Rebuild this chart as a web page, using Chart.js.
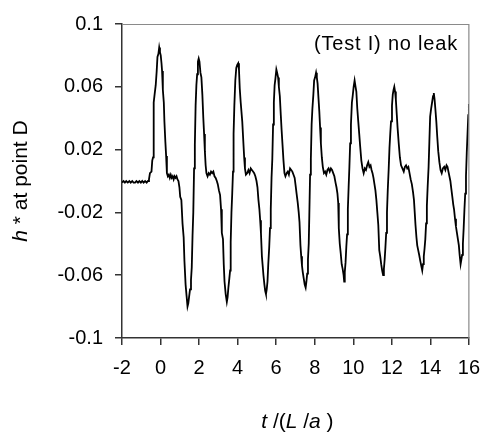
<!DOCTYPE html>
<html>
<head>
<meta charset="utf-8">
<script src="https://cdn.jsdelivr.net/npm/chart.js@4.4.1/dist/chart.umd.min.js"></script>
<style>
html,body{margin:0;padding:0;background:#fff;}
canvas{display:block;}
</style>
</head>
<body>
<canvas id="c" width="491" height="439"></canvas>
<script>
// ---- data ----
const tValues = [
-2.00,-1.92,-1.85,-1.78,-1.70,-1.62,-1.55,-1.47,-1.40,-1.32,-1.25,-1.17,-1.10,-1.02,-0.95,-0.88,-0.80,-0.72,-0.65,-0.60,
-0.55,-0.47,-0.43,-0.39,-0.37,-0.34,-0.30,-0.25,-0.20,-0.16,-0.11,-0.07,-0.03,0.01,0.05,0.08,0.12,0.17,0.20,0.25,0.29,0.33,
0.38,0.43,0.48,0.53,0.58,0.63,0.68,0.73,0.78,0.83,0.88,0.93,0.98,1.02,1.08,1.14,1.20,1.24,1.30,1.35,1.40,1.44,1.48,1.53,1.58,
1.62,1.66,1.70,1.74,1.78,1.82,1.86,1.90,1.94,1.98,2.02,2.07,2.12,2.17,2.22,2.26,2.30,2.34,2.38,2.44,2.50,2.56,2.62,2.68,2.74,
2.80,2.86,2.92,2.97,3.03,3.09,3.14,3.18,3.24,3.28,3.32,3.38,3.44,3.48,3.52,3.57,3.61,3.64,3.68,3.72,3.76,3.79,3.83,3.88,3.93,
3.98,4.03,4.07,4.11,4.16,4.24,4.30,4.34,4.38,4.43,4.50,4.56,4.62,4.68,4.74,4.80,4.86,4.92,4.98,5.03,5.08,5.13,5.17,5.21,5.26,
5.30,5.34,5.39,5.43,5.47,5.51,5.55,5.59,5.64,5.68,5.72,5.76,5.80,5.84,5.88,5.92,5.96,6.01,6.05,6.10,6.14,6.19,6.24,6.28,6.33,
6.38,6.43,6.48,6.54,6.60,6.66,6.72,6.78,6.84,6.90,6.96,7.01,7.06,7.12,7.17,7.21,7.26,7.30,7.34,7.38,7.43,7.48,7.53,7.57,7.61,
7.65,7.69,7.72,7.76,7.80,7.84,7.88,7.93,7.97,8.02,8.07,8.11,8.15,8.20,8.24,8.28,8.32,8.37,8.42,8.48,8.54,8.60,8.66,8.72,8.78,
8.84,8.90,8.96,9.02,9.08,9.13,9.18,9.22,9.25,9.30,9.35,9.40,9.45,9.50,9.53,9.56,9.60,9.64,9.68,9.72,9.76,9.80,9.84,9.88,9.93,
9.97,10.02,10.07,10.12,10.16,10.21,10.26,10.31,10.36,10.42,10.48,10.54,10.60,10.66,10.72,10.78,10.84,10.90,10.95,11.00,11.05,
11.10,11.15,11.20,11.25,11.30,11.35,11.40,11.45,11.50,11.55,11.59,11.63,11.67,11.71,11.75,11.79,11.84,11.88,11.92,11.96,12.01,
12.05,12.09,12.13,12.17,12.21,12.26,12.30,12.36,12.42,12.48,12.55,12.62,12.68,12.74,12.80,12.86,12.92,12.98,13.04,13.10,13.15,
13.19,13.23,13.28,13.32,13.37,13.42,13.48,13.53,13.58,13.62,13.66,13.70,13.74,13.78,13.82,13.86,13.91,13.95,13.99,14.04,14.09,
14.14,14.18,14.22,14.26,14.31,14.36,14.41,14.47,14.53,14.59,14.65,14.72,14.78,14.84,14.89,14.94,14.99,15.04,15.09,15.14,15.19,
15.23,15.28,15.33,15.38,15.43,15.48,15.52,15.57,15.61,15.65,15.69,15.73,15.77,15.81,15.85,15.89,15.93,15.97,16.00
];
const hValues = [
-0.001,0.000,-0.001,0.000,-0.001,0.000,-0.001,0.000,-0.001,-0.001,0.000,-0.001,0.000,-0.001,0.000,-0.001,0.000,-0.001,0.000,0.001,
0.005,0.006,0.013,0.015,0.032,0.050,0.056,0.061,0.070,0.079,0.081,0.085,0.082,0.080,0.075,0.070,0.058,0.050,0.038,0.025,0.016,0.005,
0.003,0.004,0.002,0.004,0.002,0.003,0.001,0.003,0.002,0.003,0.001,0.000,-0.004,-0.010,-0.012,-0.027,-0.036,-0.051,-0.066,-0.073,-0.080,-0.078,-0.074,-0.069,-0.063,
-0.055,-0.035,-0.020,0.008,0.023,0.048,0.061,0.068,0.076,0.078,0.076,0.069,0.066,0.055,0.040,0.030,0.019,0.010,0.005,0.003,0.005,0.004,0.006,0.005,0.006,
0.003,0.002,0.000,-0.002,-0.006,-0.009,-0.018,-0.033,-0.037,-0.053,-0.064,-0.072,-0.077,-0.074,-0.068,-0.062,-0.057,-0.039,-0.020,-0.008,0.006,0.030,0.048,0.064,0.072,
0.074,0.075,0.071,0.059,0.050,0.038,0.024,0.015,0.008,0.004,0.005,0.007,0.005,0.008,0.007,0.006,0.005,0.003,0.000,-0.004,-0.012,-0.018,-0.025,-0.033,-0.048,
-0.054,-0.060,-0.066,-0.070,-0.072,-0.069,-0.064,-0.053,-0.042,-0.030,-0.018,0.002,0.014,0.036,0.050,0.061,0.065,0.071,0.069,0.066,0.060,0.054,0.042,0.033,0.023,
0.013,0.005,0.003,0.005,0.006,0.004,0.008,0.007,0.006,0.004,0.002,-0.003,-0.008,-0.014,-0.020,-0.026,-0.041,-0.048,-0.054,-0.058,-0.062,-0.066,-0.068,-0.064,-0.059,
-0.050,-0.040,-0.022,0.004,0.014,0.036,0.046,0.055,0.064,0.066,0.069,0.066,0.062,0.052,0.044,0.034,0.024,0.015,0.009,0.005,0.006,0.004,0.007,0.008,0.006,
0.008,0.007,0.005,0.003,-0.001,-0.004,-0.008,-0.014,-0.030,-0.040,-0.046,-0.053,-0.056,-0.060,-0.064,-0.058,-0.052,-0.042,-0.034,-0.018,-0.004,0.009,0.024,0.036,0.050,
0.054,0.060,0.064,0.060,0.057,0.046,0.038,0.030,0.022,0.013,0.008,0.005,0.008,0.007,0.010,0.012,0.009,0.010,0.007,0.005,0.002,
-0.002,-0.006,-0.012,-0.020,-0.028,-0.044,-0.048,-0.053,-0.057,-0.060,-0.056,-0.050,-0.042,-0.033,-0.020,-0.006,0.008,0.021,0.030,0.038,0.048,
0.055,0.058,0.060,0.057,0.052,0.042,0.034,0.024,0.015,0.010,0.008,0.006,0.009,0.010,0.008,0.009,0.005,0.001,-0.002,-0.007,-0.012,
-0.020,-0.028,-0.036,-0.041,-0.044,-0.047,-0.051,-0.054,-0.057,-0.053,-0.048,-0.043,-0.037,-0.027,-0.016,-0.004,0.009,0.025,0.041,0.046,0.050,
0.054,0.056,0.052,0.046,0.038,0.028,0.019,0.012,0.007,0.005,0.008,0.009,0.007,0.010,0.009,0.006,0.003,0.000,-0.005,-0.010,-0.015,
-0.018,-0.024,-0.029,-0.033,-0.037,-0.041,-0.047,-0.053,-0.050,-0.047,-0.040,-0.030,-0.018,-0.008,0.003,0.018,0.030,0.042,0.049
];
const xTickValues = [-2, 0, 2, 4, 6, 8, 10, 12, 14, 16];
const yTickValues = [-0.1, -0.06, -0.02, 0.02, 0.06, 0.1];
const yTickLabels = ['-0.1', '-0.06', '-0.02', '0.02', '0.06', '0.1'];
const annotationText = '(Test I) no leak';
const yTitleParts = [{text: 'h', italic: true}, {text: ' * at point D', italic: false}];
const xTitleParts = [{text: 't', italic: true}, {text: ' /(', italic: false}, {text: 'L', italic: true}, {text: ' /', italic: false}, {text: 'a', italic: true}, {text: ' )', italic: false}];

const FONT = '"Liberation Sans", Arial, Helvetica, sans-serif';

function partsWidth(ctx, parts, size) {
  let w = 0;
  for (const p of parts) {
    ctx.font = (p.italic ? 'italic ' : '') + size + 'px ' + FONT;
    w += ctx.measureText(p.text).width;
  }
  return w;
}
function drawParts(ctx, parts, size, cx, cy) {
  const w = partsWidth(ctx, parts, size);
  let x = cx - w / 2;
  ctx.textBaseline = 'middle';
  ctx.textAlign = 'left';
  for (const p of parts) {
    ctx.font = (p.italic ? 'italic ' : '') + size + 'px ' + FONT;
    ctx.fillText(p.text, x, cy);
    x += ctx.measureText(p.text).width;
  }
}

const decorPlugin = {
  id: 'decor',
  afterDraw(chart) {
    const ctx = chart.ctx;
    const a = chart.chartArea;
    ctx.save();
    // top and right frame lines (gray)
    ctx.strokeStyle = '#8a8a8a';
    ctx.lineWidth = 1.2;
    ctx.beginPath();
    ctx.moveTo(a.left, a.top + 0.5);
    ctx.lineTo(a.right, a.top + 0.5);
    ctx.lineTo(a.right, a.bottom);
    ctx.stroke();
    // annotation
    ctx.fillStyle = '#000';
    ctx.font = '20px ' + FONT;
    ctx.letterSpacing = '0.8px';
    ctx.textAlign = 'right';
    ctx.textBaseline = 'middle';
    ctx.fillText(annotationText, 458, 44);
    ctx.letterSpacing = '0px';
    // x title
    drawParts(ctx, xTitleParts, 21, (a.left + a.right) / 2 + 2, 422);
    // y title (rotated)
    ctx.translate(21, (a.top + a.bottom) / 2);
    ctx.rotate(-Math.PI / 2);
    drawParts(ctx, yTitleParts, 21, 0, 0);
    ctx.restore();
  }
};

new Chart(document.getElementById('c'), {
  type: 'scatter',
  data: {
    datasets: [{
      data: tValues.map((t, i) => ({x: t, y: hValues[i]})),
      showLine: true,
      borderColor: '#000',
      borderWidth: 1.8,
      pointRadius: 0,
      fill: false,
      tension: 0
    }]
  },
  options: {
    responsive: false,
    animation: false,
    devicePixelRatio: 1,
    layout: {padding: {top: 17, right: 14, left: 0, bottom: 0}},
    plugins: {legend: {display: false}, tooltip: {enabled: false}},
    scales: {
      x: {
        type: 'linear',
        min: -2, max: 16,
        afterBuildTicks: s => { s.ticks = xTickValues.map(v => ({value: v})); },
        afterFit: s => { s.height = 101; },
        ticks: {
          font: {family: FONT, size: 20},
          color: '#000',
          padding: 11,
          maxRotation: 0,
          autoSkip: false,
          callback: v => String(v)
        },
        grid: {drawOnChartArea: false, drawTicks: true, tickLength: 7, color: '#333', lineWidth: 1.5},
        border: {display: true, color: '#333', width: 1.5}
      },
      y: {
        type: 'linear',
        min: -0.1, max: 0.1,
        afterBuildTicks: s => { s.ticks = yTickValues.map(v => ({value: v})); },
        afterFit: s => { s.width = 122; },
        ticks: {
          font: {family: FONT, size: 20},
          color: '#000',
          padding: 12,
          autoSkip: false,
          callback: (v, i) => yTickLabels[yTickValues.indexOf(v)] ?? String(v)
        },
        grid: {drawOnChartArea: false, drawTicks: true, tickLength: 7, color: '#333', lineWidth: 1.5},
        border: {display: true, color: '#333', width: 1.5}
      }
    }
  },
  plugins: [decorPlugin]
});
</script>
</body>
</html>
